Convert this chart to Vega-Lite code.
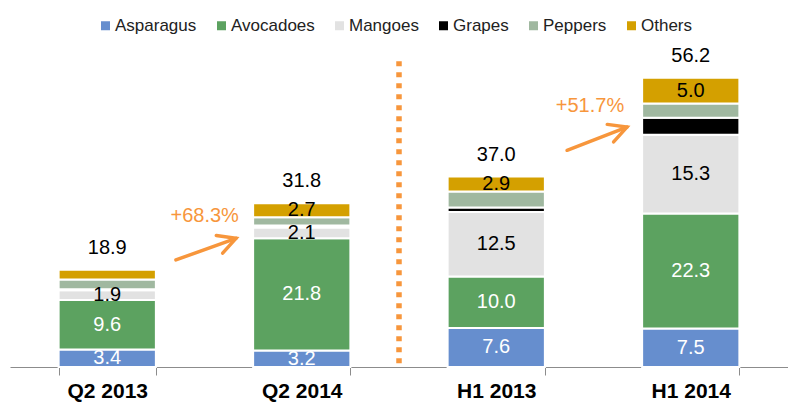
{
  "$schema": "https://vega.github.io/schema/vega-lite/v6.json",
  "width": 778,
  "height": 367,
  "autosize": {"type": "none"},
  "padding": {"left": 10, "top": 0, "right": 0, "bottom": 36},
  "config": {"view": {"stroke": null}, "font": "Liberation Sans"},
  "datasets": {
    "fruit": [
      {"period": "Q2 2013", "fruit": "Asparagus", "value": 3.4},
      {"period": "Q2 2013", "fruit": "Avocadoes", "value": 9.6},
      {"period": "Q2 2013", "fruit": "Mangoes", "value": 1.9},
      {"period": "Q2 2013", "fruit": "Grapes", "value": 0.2},
      {"period": "Q2 2013", "fruit": "Peppers", "value": 1.9},
      {"period": "Q2 2013", "fruit": "Others", "value": 1.9},
      {"period": "Q2 2014", "fruit": "Asparagus", "value": 3.2},
      {"period": "Q2 2014", "fruit": "Avocadoes", "value": 21.8},
      {"period": "Q2 2014", "fruit": "Mangoes", "value": 2.1},
      {"period": "Q2 2014", "fruit": "Grapes", "value": 0.4},
      {"period": "Q2 2014", "fruit": "Peppers", "value": 1.6},
      {"period": "Q2 2014", "fruit": "Others", "value": 2.7},
      {"period": "H1 2013", "fruit": "Asparagus", "value": 7.6},
      {"period": "H1 2013", "fruit": "Avocadoes", "value": 10.0},
      {"period": "H1 2013", "fruit": "Mangoes", "value": 12.5},
      {"period": "H1 2013", "fruit": "Grapes", "value": 0.9},
      {"period": "H1 2013", "fruit": "Peppers", "value": 3.1},
      {"period": "H1 2013", "fruit": "Others", "value": 2.9},
      {"period": "H1 2014", "fruit": "Asparagus", "value": 7.5},
      {"period": "H1 2014", "fruit": "Avocadoes", "value": 22.3},
      {"period": "H1 2014", "fruit": "Mangoes", "value": 15.3},
      {"period": "H1 2014", "fruit": "Grapes", "value": 3.3},
      {"period": "H1 2014", "fruit": "Peppers", "value": 2.8},
      {"period": "H1 2014", "fruit": "Others", "value": 5.0}
    ],
    "arrows": [
      {"arrow": "Q2", "pos": 0.853, "val": 20.8, "tip": false},
      {"arrow": "Q2", "pos": 1.162, "val": 25.0, "tip": true},
      {"arrow": "H1", "pos": 2.864, "val": 42.1, "tip": false},
      {"arrow": "H1", "pos": 3.172, "val": 46.6, "tip": true}
    ],
    "growth": [
      {"label": "+68.3%", "pos": 1.001, "val": 28.2},
      {"label": "+51.7%", "pos": 2.982, "val": 49.5}
    ],
    "divider": [{"pos": 2.0, "top": 59.4, "bottom": 0}]
  },
  "layer": [
    {
      "data": {"name": "fruit"},
      "transform": [
        {"calculate": "indexof(['Asparagus','Avocadoes','Mangoes','Grapes','Peppers','Others'], datum.fruit)", "as": "ord"}
      ],
      "encoding": {
        "x": {
          "field": "period",
          "type": "nominal",
          "sort": ["Q2 2013", "Q2 2014", "H1 2013", "H1 2014"],
          "scale": {"paddingInner": 0.5, "paddingOuter": 0.25},
          "axis": {
            "title": null,
            "tickBand": "extent",
            "labelAngle": 0,
            "labelFont": "Liberation Sans",
            "labelFontSize": 21,
            "labelFontWeight": "bold",
            "labelColor": "black",
            "labelPadding": 5,
            "tickSize": 8,
            "tickColor": "#8c8c8c",
            "domainColor": "#8c8c8c",
            "grid": false
          }
        }
      },
      "layer": [
        {
          "mark": {"type": "bar", "stroke": "white", "strokeWidth": 2},
          "encoding": {
            "y": {"field": "value", "type": "quantitative", "stack": "zero", "scale": {"domain": [0, 71.3], "nice": false}, "axis": null},
            "color": {
              "field": "fruit",
              "type": "nominal",
              "scale": {
                "domain": ["Asparagus", "Avocadoes", "Mangoes", "Grapes", "Peppers", "Others"],
                "range": ["#668ECE", "#5CA260", "#E2E2E2", "#000000", "#A0B8A0", "#D4A000"]
              },
              "legend": {
                "orient": "none",
                "legendX": 87,
                "legendY": 17,
                "direction": "horizontal",
                "title": null,
                "symbolType": "square",
                "symbolSize": 81,
                "symbolStrokeWidth": 0,
                "labelFont": "Liberation Sans",
                "labelFontSize": 17,
                "labelColor": "#222222",
                "columnPadding": 16,
                "labelOffset": 1,
                "padding": 0
              }
            },
            "order": {"field": "ord", "type": "quantitative"}
          }
        },
        {
          "transform": [
            {"stack": "value", "groupby": ["period"], "sort": [{"field": "ord", "order": "ascending"}], "as": ["v0", "v1"]},
            {"calculate": "(datum.v0 + datum.v1) / 2", "as": "mid"},
            {"filter": "datum.fruit == 'Asparagus' || datum.fruit == 'Avocadoes' || datum.fruit == 'Mangoes' || (datum.fruit == 'Others' && datum.period != 'Q2 2013')"}
          ],
          "mark": {"type": "text", "fontSize": 20, "baseline": "middle", "font": "Liberation Sans"},
          "encoding": {
            "y": {"field": "mid", "type": "quantitative", "scale": {"domain": [0, 71.3], "nice": false}},
            "text": {"field": "value", "type": "quantitative", "format": ".1f"},
            "color": {"condition": {"test": "datum.fruit == 'Asparagus' || datum.fruit == 'Avocadoes'", "value": "white"}, "value": "black"}
          }
        },
        {
          "transform": [
            {"aggregate": [{"op": "sum", "field": "value", "as": "total"}], "groupby": ["period"]}
          ],
          "mark": {"type": "text", "fontSize": 20, "baseline": "alphabetic", "dy": -16, "color": "black", "font": "Liberation Sans"},
          "encoding": {
            "y": {"field": "total", "type": "quantitative", "scale": {"domain": [0, 71.3], "nice": false}},
            "text": {"field": "total", "type": "quantitative", "format": ".1f"}
          }
        }
      ]
    },
    {
      "encoding": {
        "x": {"field": "pos", "type": "quantitative", "scale": {"domain": [0, 4], "nice": false, "zero": false}, "axis": null}
      },
      "layer": [
        {
          "data": {"name": "divider"},
          "mark": {"type": "rule", "color": "#F7963C", "strokeWidth": 5.5, "strokeDash": [5, 6]},
          "encoding": {
            "y": {"field": "top", "type": "quantitative", "scale": {"domain": [0, 71.3], "nice": false}},
            "y2": {"field": "bottom"}
          }
        },
        {
          "data": {"name": "arrows"},
          "mark": {"type": "line", "color": "#F7963C", "strokeWidth": 3.5, "strokeCap": "round"},
          "encoding": {
            "y": {"field": "val", "type": "quantitative", "scale": {"domain": [0, 71.3], "nice": false}},
            "detail": {"field": "arrow"}
          }
        },
        {
          "data": {"name": "arrows"},
          "transform": [{"filter": "datum.tip"}],
          "mark": {"type": "point", "shape": "M-1,-0.53L0,0L-1,0.53", "filled": false, "color": "#F7963C", "strokeWidth": 3.5, "strokeCap": "round", "size": 1239, "angle": -20, "opacity": 1},
          "encoding": {
            "y": {"field": "val", "type": "quantitative", "scale": {"domain": [0, 71.3], "nice": false}}
          }
        },
        {
          "data": {"name": "growth"},
          "mark": {"type": "text", "fontSize": 20, "baseline": "alphabetic", "color": "#F7963C", "font": "Liberation Sans"},
          "encoding": {
            "y": {"field": "val", "type": "quantitative", "scale": {"domain": [0, 71.3], "nice": false}},
            "text": {"field": "label"}
          }
        }
      ]
    }
  ],
  "resolve": {"scale": {"x": "independent"}}
}
